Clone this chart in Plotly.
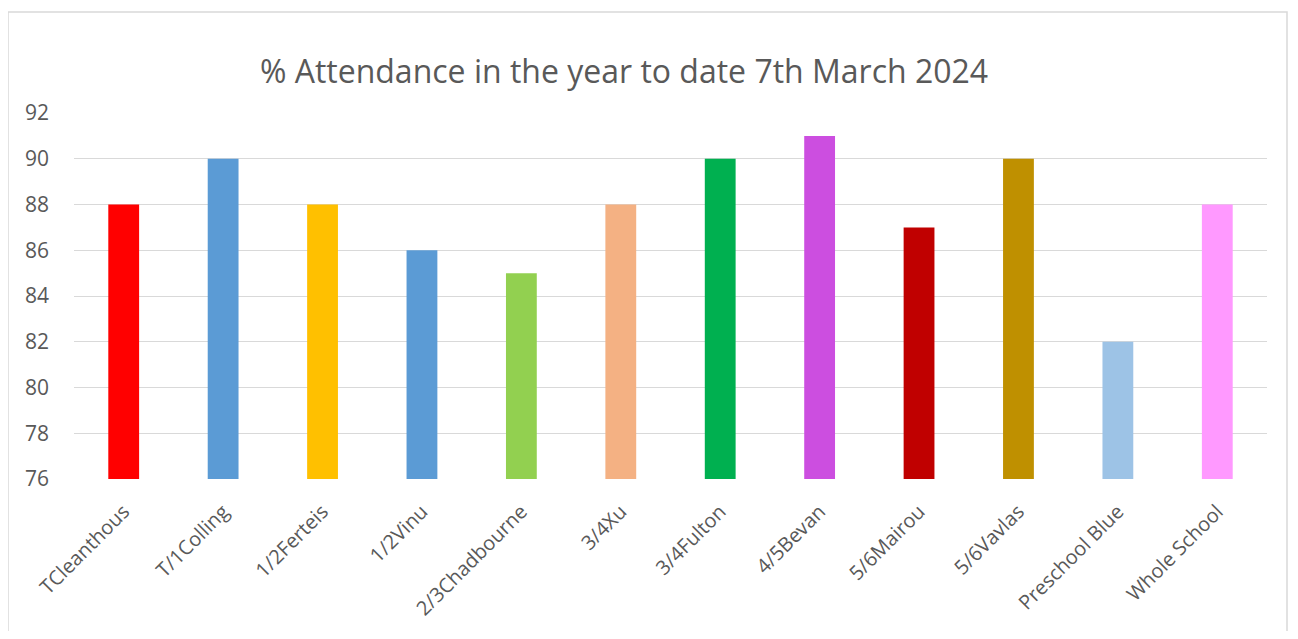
import plotly.graph_objects as go

categories = ["TCleanthous", "T/1Colling", "1/2Ferteis", "1/2Vinu", "2/3Chadbourne", "3/4Xu",
              "3/4Fulton", "4/5Bevan", "5/6Mairou", "5/6Vavlas", "Preschool Blue", "Whole School"]
values = [88, 90, 88, 86, 85, 88, 90, 91, 87, 90, 82, 88]
colors = ["#FF0000", "#5B9BD5", "#FFC000", "#5B9BD5", "#92D050", "#F4B183",
          "#00B050", "#CC4EE0", "#C00000", "#BF9000", "#9DC3E6", "#FF99FF"]
y_ticks = [76, 78, 80, 82, 84, 86, 88, 90, 92]

font_family = "Open Sans, Liberation Sans, sans-serif"
text_color = "#595959"

fig = go.Figure(go.Bar(x=categories, y=values, marker=dict(color=colors, line=dict(width=0))))

# page body has an 8px margin; work in screen pixels and convert
OFF = 8
W, H = 1290, 623
l, r, t, b = 74 - OFF, 31, 113 - OFF, 152
pw = W - l - r
ph = H - t - b

def px_x(x):
    return (x - OFF - l) / pw

def px_y(y):
    return (H - b - (y - OFF)) / ph

fig.update_layout(
    width=W, height=H,
    margin=dict(l=l, r=r, t=t, b=b, autoexpand=False),
    paper_bgcolor="white", plot_bgcolor="white",
    bargap=0.69,
    showlegend=False,
    title=dict(text="% Attendance in the year to date 7th March 2024",
               x=(624 - OFF) / W, xanchor="center", y=1 - (72 - OFF) / H, yanchor="middle",
               font=dict(family=font_family, size=32, color=text_color)),
    font=dict(family=font_family, color=text_color),
    xaxis=dict(tickangle=-45, tickfont=dict(size=20, color=text_color), automargin=False,
               showgrid=False, showline=False, ticks="", zeroline=False,
               ticklabelstandoff=16),
    yaxis=dict(range=[76, 92], tickvals=y_ticks, tickfont=dict(size=21, color=text_color),
               automargin=False,
               showgrid=True, gridcolor="#D9D9D9", gridwidth=1.3, zeroline=False,
               showline=False, ticks="", ticklabelstandoff=24),
    shapes=[dict(type="rect", xref="paper", yref="paper",
                 x0=px_x(8), x1=px_x(1287), y0=px_y(12), y1=px_y(700),
                 line=dict(color="#D9D9D9", width=1.5), layer="below")],
)

fig.write_html("out.html")
